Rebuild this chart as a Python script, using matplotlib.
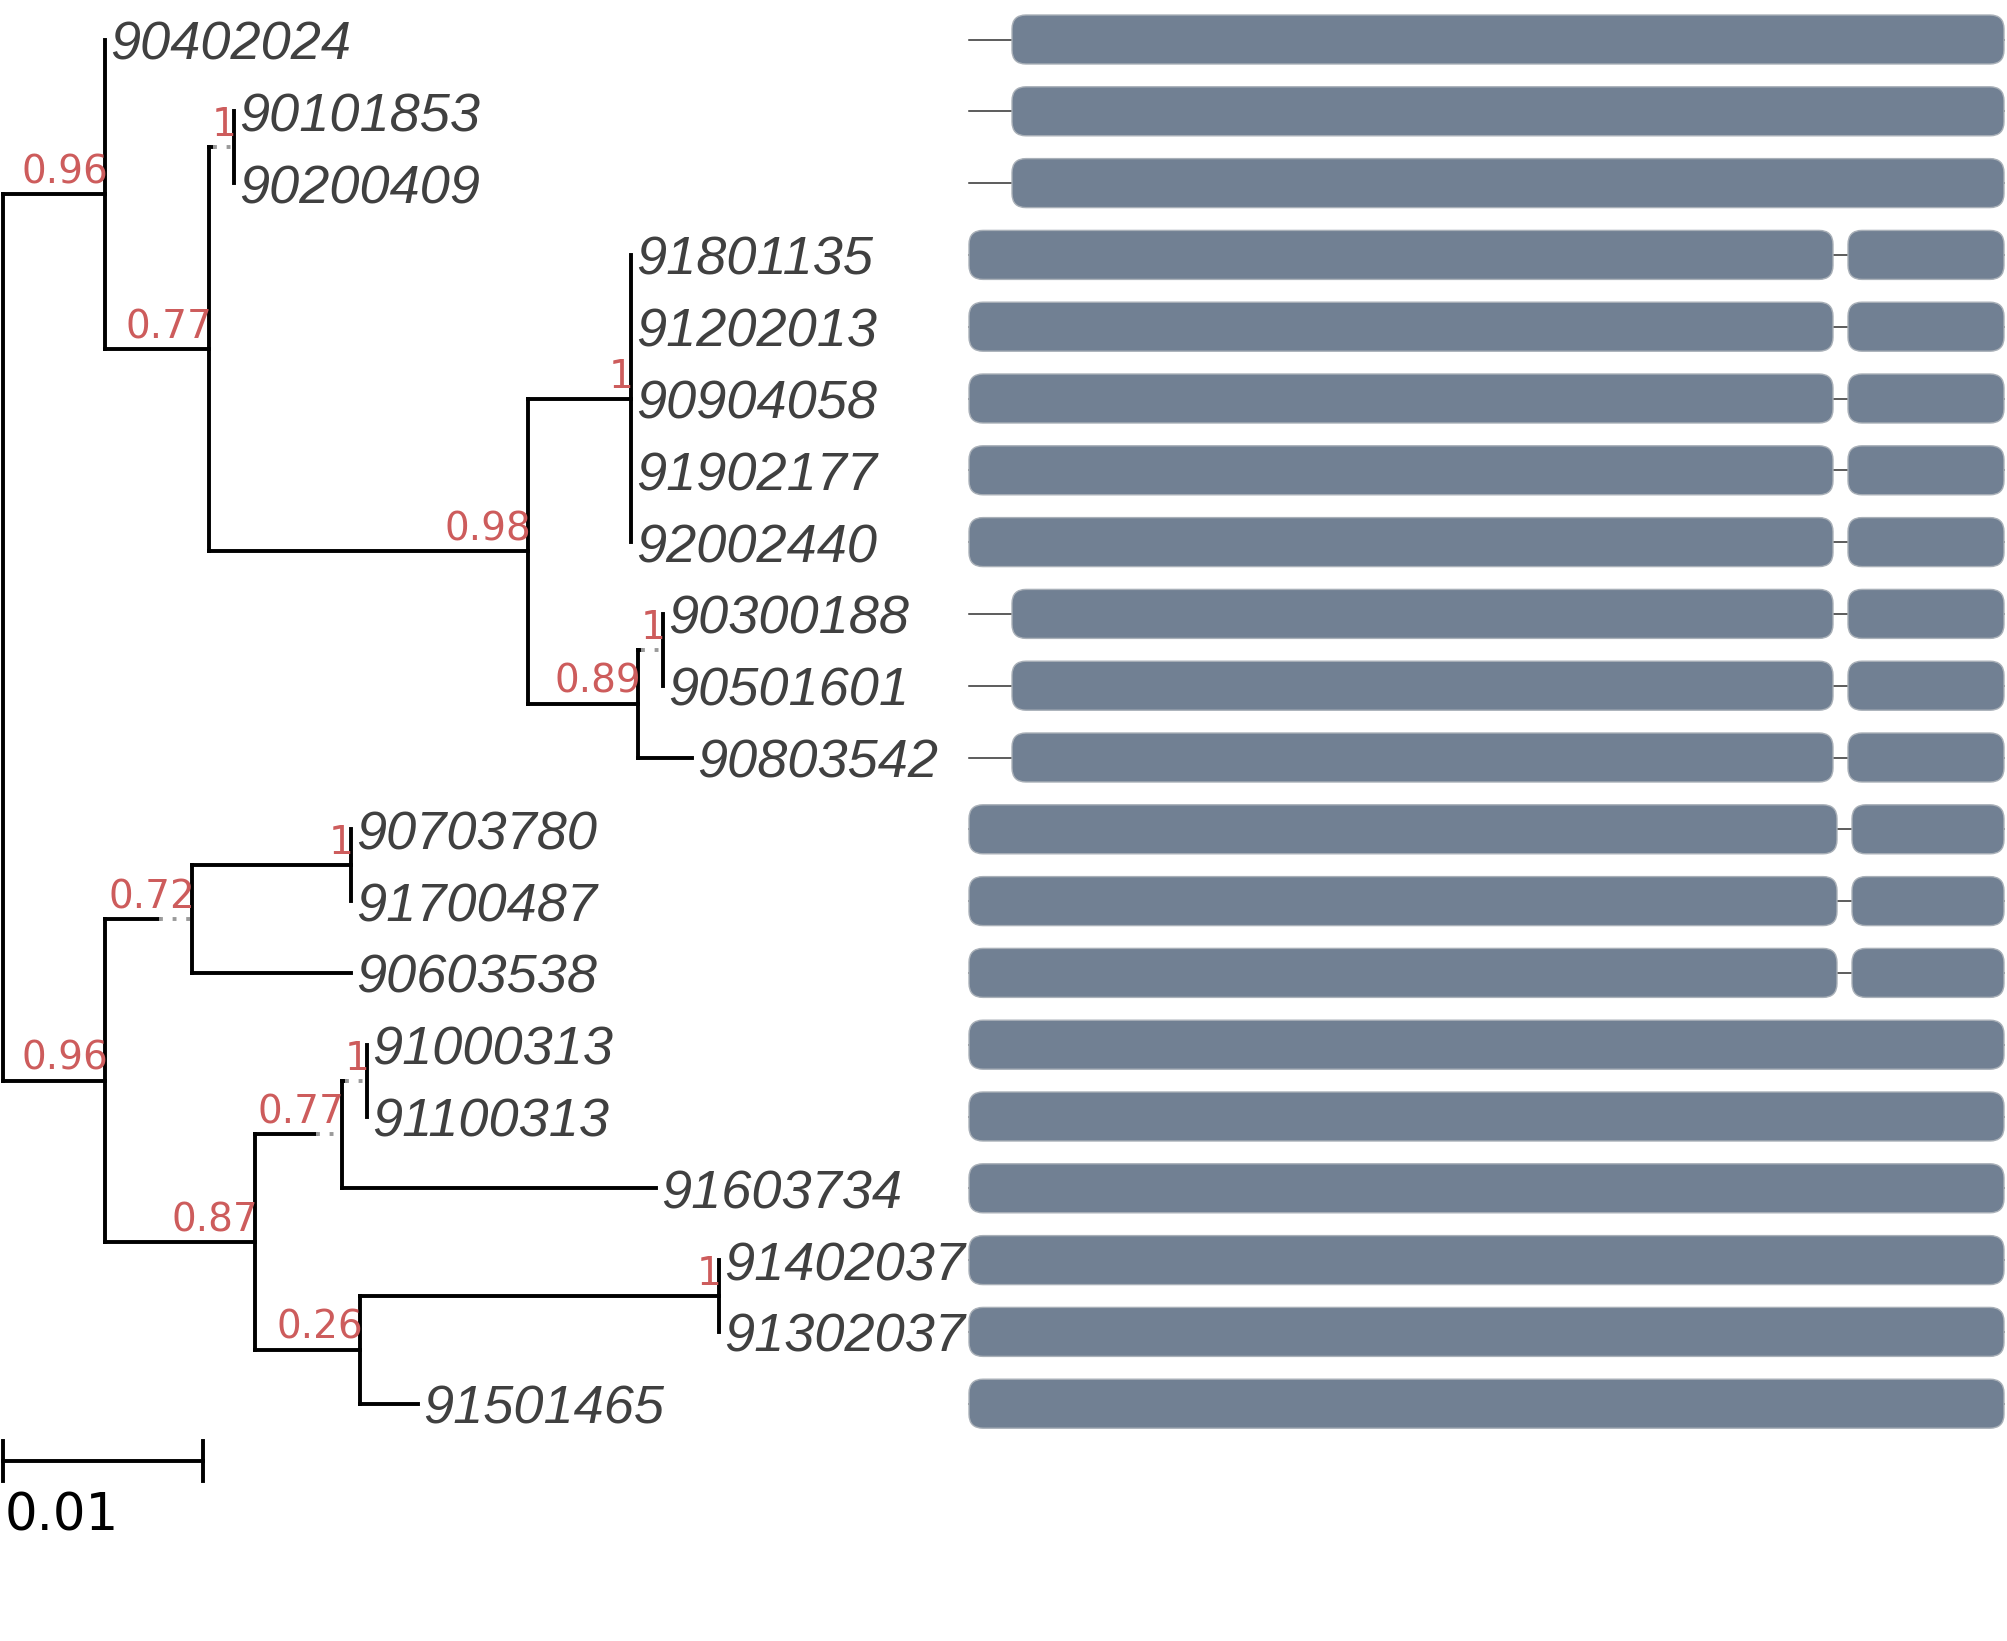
import matplotlib
matplotlib.use("Agg")
import matplotlib.pyplot as plt
from matplotlib.patches import FancyBboxPatch
from matplotlib.transforms import offset_copy

# ---------------- data ----------------
# tree as flat arrays: parent index, branch length (substitutions/site), support, leaf name
node_parent = [-1, 0, 1, 1, 3, 4, 4, 3, 7, 8, 8, 8, 8, 8, 7, 14, 15, 15, 14,
               0, 19, 20, 21, 21, 20, 19, 25, 26, 27, 27, 26, 25, 31, 32, 32, 31]
node_length = [0.0, 0.0051, 0.0, 0.0052, 0.0002, 0.0, 0.0, 0.01595, 0.00515,
               0.0, 0.0, 0.0, 0.0, 0.0, 0.0055, 0.00015, 0.0, 0.0, 0.0027,
               0.0051, 0.0027, 0.00795, 0.0, 0.0, 0.00795, 0.0075, 0.00305,
               0.00015, 0.0, 0.0, 0.0157, 0.00525, 0.01795, 0.0, 0.0, 0.0029]
node_support = ["", "0.96", "", "0.77", "1", "", "", "0.98", "1",
                "", "", "", "", "", "0.89", "1", "", "", "",
                "0.96", "0.72", "1", "", "", "", "0.87", "0.77",
                "1", "", "", "", "0.26", "1", "", "", ""]
node_name = ["", "", "90402024", "", "", "90101853", "90200409", "", "",
             "91801135", "91202013", "90904058", "91902177", "92002440", "", "",
             "90300188", "90501601", "90803542",
             "", "", "", "90703780", "91700487", "90603538", "", "",
             "", "91000313", "91100313", "91603734", "", "", "91402037",
             "91302037", "91501465"]

# alignment blocks per leaf (in leaf order), alignment positions
aln_len = 1035
block_starts = [[43], [43], [43],
                [0, 879], [0, 879], [0, 879], [0, 879], [0, 879],
                [43, 879], [43, 879], [43, 879],
                [0, 883], [0, 883], [0, 883],
                [0], [0], [0], [0], [0], [0]]
block_ends = [[1035], [1035], [1035],
              [864, 1035], [864, 1035], [864, 1035], [864, 1035], [864, 1035],
              [864, 1035], [864, 1035], [864, 1035],
              [868, 1035], [868, 1035], [868, 1035],
              [1035], [1035], [1035], [1035], [1035], [1035]]

scale_value = 0.01
scale_label = "0.01"

# ---------------- layout ----------------
W, H, DPI = 2007, 1641, 100
PX_PER_UNIT = 20000.0
ROW_PX = 71.8
ROW0_PX = 39.5
ROOT_PX = 3

fig = plt.figure(figsize=(W / DPI, H / DPI), dpi=DPI)
fig.patch.set_facecolor("white")
ax = fig.add_axes([0, 0, 1, 1])
ax.set_xlim(-ROOT_PX / PX_PER_UNIT, (W - ROOT_PX) / PX_PER_UNIT)
ax.set_ylim((H - ROW0_PX) / ROW_PX, -ROW0_PX / ROW_PX)
ax.axis("off")

SUP_FONT = dict(family="DejaVu Sans", fontsize=28, color="#cd5c5c")
LEAF_FONT = dict(family=["Liberation Sans", "DejaVu Sans"], fontsize=39,
                 style="italic", color="#404040")

renderer = fig.canvas.get_renderer()


def text_width_units(s):
    if not s:
        return 0.0
    t = ax.text(0, 0, s, **SUP_FONT)
    w = t.get_window_extent(renderer).width
    t.remove()
    return w * 1.0 / PX_PER_UNIT


n = len(node_parent)
children = [[] for _ in range(n)]
for i, p in enumerate(node_parent):
    if p >= 0:
        children[p].append(i)

xpos = [0.0] * n
solid_end = [0.0] * n
ypos = [0.0] * n
leaf_order = []


def layout(i):
    p = node_parent[i]
    if p >= 0:
        shown = max(node_length[i], text_width_units(node_support[i]))
        solid_end[i] = xpos[p] + node_length[i]
        xpos[i] = xpos[p] + shown
    if not children[i]:
        ypos[i] = len(leaf_order)
        leaf_order.append(i)
    else:
        for c in children[i]:
            layout(c)
        ypos[i] = (ypos[children[i][0]] + ypos[children[i][-1]]) / 2.0


layout(0)

LW = 2.8
for i in range(n):
    p = node_parent[i]
    if p >= 0:
        if node_length[i] > 0:
            ax.plot([xpos[p], solid_end[i]], [ypos[i], ypos[i]], color="black",
                    lw=LW, solid_capstyle="projecting")
        if xpos[i] - solid_end[i] > 1e-9:
            ax.plot([solid_end[i], xpos[i]], [ypos[i], ypos[i]], color="#9a9a9a",
                    lw=LW, linestyle=(0, (1, 2.5)), dash_capstyle="butt")
    if children[i]:
        ax.plot([xpos[i], xpos[i]], [ypos[children[i][0]], ypos[children[i][-1]]],
                color="black", lw=LW, solid_capstyle="projecting")

sup_tr = offset_copy(ax.transData, fig=fig, x=3, y=11, units="dots")
leaf_tr = offset_copy(ax.transData, fig=fig, x=5, y=-20, units="dots")
for i in range(n):
    if node_support[i]:
        ax.text(xpos[i], ypos[i], node_support[i], ha="right", va="baseline",
                transform=sup_tr, **SUP_FONT)
    if node_name[i]:
        ax.text(xpos[i], ypos[i], node_name[i], ha="left", va="baseline",
                transform=leaf_tr, **LEAF_FONT)

# scale bar
sb_y = len(leaf_order) - 1 + 0.8
tick = 20 / ROW_PX
ax.plot([0, scale_value], [sb_y, sb_y], color="black", lw=LW)
ax.plot([0, 0], [sb_y - tick, sb_y + tick], color="black", lw=LW)
ax.plot([scale_value, scale_value], [sb_y - tick, sb_y + tick], color="black", lw=LW)
sb_tr = offset_copy(ax.transData, fig=fig, x=2, y=-69, units="dots")
ax.text(0, sb_y, scale_label, ha="left", va="baseline", transform=sb_tr,
        family="DejaVu Sans", fontsize=37, color="black")

# alignment blocks
ax2 = fig.add_axes([969 / W, 0, (2004 - 969) / W, 1])
ax2.set_xlim(0, aln_len)
ax2.set_ylim(ax.get_ylim())
ax2.axis("off")
BAR_H = 49 / ROW_PX
for r in range(len(leaf_order)):
    ax2.plot([0, aln_len], [r, r], color="#303030", lw=1.1, clip_on=False, zorder=1)
    for s, e in zip(block_starts[r], block_ends[r]):
        patch = FancyBboxPatch((s, r - BAR_H / 2), e - s, BAR_H,
                               boxstyle="round,pad=0,rounding_size=14",
                               mutation_aspect=1 / ROW_PX,
                               facecolor="#718093", edgecolor="#a9b0b8", lw=1.0,
                               clip_on=False, zorder=2)
        ax2.add_patch(patch)

fig.savefig("out.png", dpi=DPI, facecolor="white")
